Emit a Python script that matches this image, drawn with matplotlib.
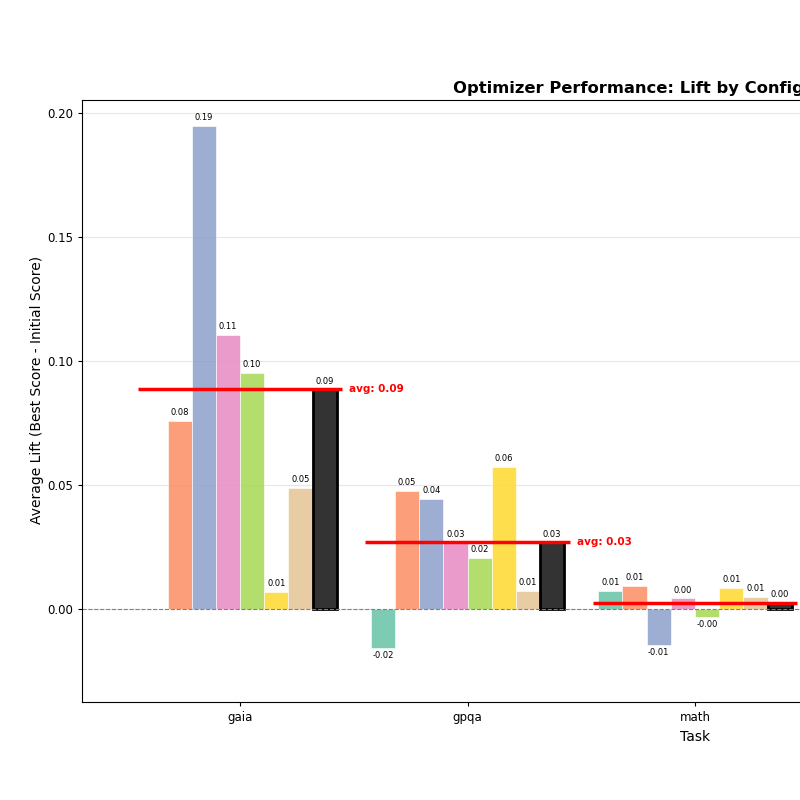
import numpy as np
import matplotlib.pyplot as plt

tasks = ["gaia", "gpqa", "math"]
configs = ["cfg_1", "cfg_2", "cfg_3", "cfg_4", "cfg_5", "cfg_6", "cfg_7"]
colors = ["#66c2a5", "#fc8d62", "#8da0cb", "#e78ac3", "#a6d854", "#ffd92f", "#e5c494"]

# lift per config (one list per config, values per task); nan = no run
lift_cfg_1 = [np.nan, -0.0157, 0.0073]
lift_cfg_2 = [0.0758, 0.0476, 0.0093]
lift_cfg_3 = [0.1948, 0.0444, -0.0145]
lift_cfg_4 = [0.1105, 0.0270, 0.0044]
lift_cfg_5 = [0.0952, 0.0206, -0.0031]
lift_cfg_6 = [0.0069, 0.0573, 0.0086]
lift_cfg_7 = [0.0488, 0.0073, 0.0050]

lifts = np.array([lift_cfg_1, lift_cfg_2, lift_cfg_3, lift_cfg_4,
                  lift_cfg_5, lift_cfg_6, lift_cfg_7])
avg = np.nanmean(lifts, axis=0)

fig = plt.figure(figsize=(8, 8), dpi=100)
ax = fig.add_axes([82 / 800, 98 / 800, 1226 / 800, 602 / 800])

n = len(configs) + 1
width = 0.85 / n
x = np.arange(len(tasks))


def label(ax, xpos, val):
    if np.isnan(val):
        return
    if val >= 0:
        ax.annotate(f"{val:.2f}", (xpos, val), xytext=(0, 2.5),
                    textcoords="offset points", ha="center", va="bottom", fontsize=6)
    else:
        ax.annotate(f"{val:.2f}", (xpos, val), xytext=(0, -2.5),
                    textcoords="offset points", ha="center", va="top", fontsize=6)


for i, cfg in enumerate(configs):
    pos = x + (i - (n - 1) / 2) * width
    vals = lifts[i]
    ax.bar(pos, np.nan_to_num(vals), width, color=colors[i], alpha=0.85,
           edgecolor="white", linewidth=0.5, label=cfg)
    for p, v in zip(pos, vals):
        label(ax, p, v)

# average bar
pos = x + ((n - 1) / 2) * width
ax.bar(pos, avg, width, color="#333333", edgecolor="black", linewidth=2, label="average")
for p, v in zip(pos, avg):
    label(ax, p, v)

# avg lines
for xi, a in zip(x, avg):
    ax.hlines(a, xi - 0.45, xi + 0.45, color="red", linewidth=2.5, zorder=5)
    ax.text(xi + 0.48, a, f"avg: {a:.2f}", color="red", fontsize=7.5,
            fontweight="bold", va="center", ha="left")

ax.axhline(0, color="gray", linestyle="--", linewidth=0.8)
ax.set_xlim(-0.695, 4.695)
ax.set_ylim(-0.0375, 0.2052)
ax.set_xticks(x)
ax.set_xticklabels(tasks)
ax.tick_params(labelsize=8.5, length=3)
ax.set_xlabel("Task", fontsize=10)
ax.set_ylabel("Average Lift (Best Score - Initial Score)", fontsize=10)
ax.yaxis.set_label_coords(-0.031, 0.518)
ax.set_title("Optimizer Performance: Lift by Configuration & Task",
             fontsize=11.8, fontweight="bold", pad=5)
ax.yaxis.grid(True, alpha=0.3)
ax.set_axisbelow(True)

fig.savefig("out.png", dpi=100)
